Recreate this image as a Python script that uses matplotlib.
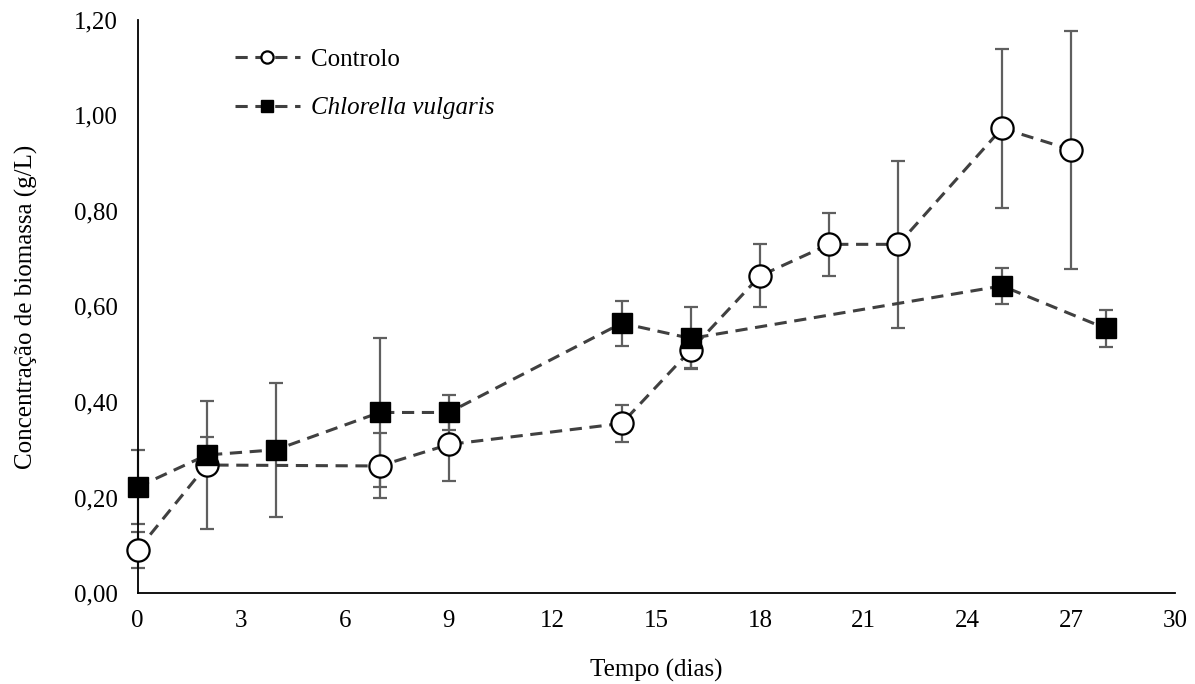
import matplotlib
matplotlib.use("Agg")
import matplotlib.pyplot as plt
from matplotlib.ticker import FuncFormatter

plt.rcParams['font.family'] = ['Liberation Serif', 'DejaVu Serif']

# dados
dias_controlo = [0, 2, 7, 9, 14, 16, 18, 20, 22, 25, 27]
controlo = [0.090, 0.268, 0.266, 0.311, 0.355, 0.509, 0.664, 0.730, 0.730, 0.973, 0.928]
controlo_erro = [0.038, 0.133, 0.068, 0.077, 0.038, 0.038, 0.066, 0.066, 0.175, 0.166, 0.249]

dias_chlorella = [0, 2, 4, 7, 9, 14, 16, 25, 28]
chlorella = [0.222, 0.289, 0.300, 0.378, 0.378, 0.565, 0.533, 0.643, 0.554]
chlorella_erro = [0.078, 0.038, 0.140, 0.155, 0.037, 0.047, 0.065, 0.038, 0.038]

x_ticks = list(range(0, 31, 3))
y_ticks = [0.0, 0.2, 0.4, 0.6, 0.8, 1.0, 1.2]

fig = plt.figure(figsize=(11.95, 6.84), dpi=100)
ax = fig.add_axes([0.1152, 0.133, 0.868, 0.838])

err_kw = dict(ecolor='#5f5f5f', elinewidth=1.6, capsize=5, capthick=1.6, zorder=2)

for dias, vals, erro in [(dias_controlo, controlo, controlo_erro),
                         (dias_chlorella, chlorella, chlorella_erro)]:
    eb = ax.errorbar(dias, vals, yerr=erro, fmt='none', **err_kw)
    for art in eb.lines[1] + eb.lines[2]:
        art.set_clip_on(False)

ax.plot(dias_controlo, controlo, linestyle=(0, (4, 2.5)), color='#404040', lw=2.2,
        marker='o', markersize=16, markerfacecolor='white', markeredgecolor='black',
        markeredgewidth=1.6, label='Controlo', zorder=3, clip_on=False)
ax.plot(dias_chlorella, chlorella, linestyle=(0, (4, 2.5)), color='#404040', lw=2.2,
        marker='s', markersize=15, markerfacecolor='black', markeredgecolor='black',
        label='Chlorella vulgaris', zorder=4, clip_on=False)

ax.set_xlim(0, 30)
ax.set_ylim(0, 1.2)
ax.set_xticks(x_ticks)
ax.set_yticks(y_ticks)
ax.yaxis.set_major_formatter(FuncFormatter(lambda v, p: f"{v:.2f}".replace('.', ',')))
ax.tick_params(axis='both', length=0, labelsize=18)
ax.tick_params(axis='x', pad=12.5)
ax.tick_params(axis='y', pad=14)

for s in ['top', 'right']:
    ax.spines[s].set_visible(False)
for s in ['left', 'bottom']:
    ax.spines[s].set_linewidth(1.3)
    ax.spines[s].set_color('black')

ax.set_xlabel('Tempo (dias)', fontsize=18, labelpad=19)
ax.set_ylabel('Concentração de biomassa (g/L)', fontsize=18, labelpad=26)

leg = ax.legend(loc='upper left', bbox_to_anchor=(0.072, 0.99), frameon=False,
                fontsize=18, handlelength=2.6, handletextpad=0.45,
                labelspacing=1.05, markerscale=0.55)
leg.get_texts()[1].set_fontstyle('italic')

fig.savefig('out.png', dpi=100)
